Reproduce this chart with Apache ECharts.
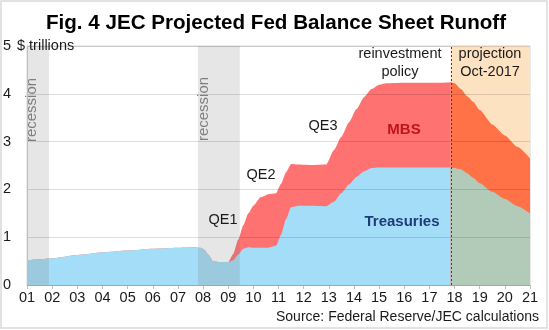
<!DOCTYPE html>
<html>
<head>
<meta charset="utf-8">
<script src="https://cdn.jsdelivr.net/npm/echarts@6/dist/echarts.min.js"></script>
<style>
html,body{margin:0;padding:0;background:#fff;}
#chart{width:549px;height:330px;}
</style>
</head>
<body>
<div id="chart"></div>
<script>
// ---- data (decimal years, $ trillions) ----
const histYears = [2001.0, 2001.5, 2002.0, 2003.0, 2004.0, 2005.0, 2006.0, 2007.0, 2007.6, 2007.9, 2008.05, 2008.2, 2008.4, 2008.6, 2009.0, 2009.2, 2009.4, 2009.6, 2009.8, 2010.0, 2010.3, 2010.6, 2010.9, 2011.1, 2011.3, 2011.5, 2011.8, 2012.3, 2012.9, 2013.2, 2013.5, 2013.8, 2014.1, 2014.4, 2014.7, 2015.0, 2015.3, 2016.0, 2016.5, 2017.0, 2017.5, 2017.85];
const histTreasuries = [0.52, 0.54, 0.56, 0.63, 0.68, 0.72, 0.76, 0.78, 0.79, 0.78, 0.74, 0.64, 0.50, 0.48, 0.48, 0.52, 0.64, 0.76, 0.79, 0.78, 0.78, 0.78, 0.82, 1.05, 1.38, 1.63, 1.66, 1.66, 1.65, 1.74, 1.92, 2.10, 2.26, 2.38, 2.45, 2.46, 2.46, 2.46, 2.46, 2.46, 2.46, 2.46];
const histMBS = [0, 0, 0, 0, 0, 0, 0, 0, 0, 0, 0, 0, 0, 0, 0.00, 0.13, 0.31, 0.49, 0.71, 0.88, 1.06, 1.12, 1.10, 1.07, 0.98, 0.90, 0.86, 0.85, 0.87, 1.08, 1.18, 1.30, 1.42, 1.55, 1.65, 1.73, 1.76, 1.77, 1.77, 1.77, 1.77, 1.78];

const projYears = [2017.85, 2018.0, 2018.25, 2018.5, 2018.75, 2019.0, 2019.5, 2020.0, 2020.5, 2021.0];
const projTreasuries = [2.46, 2.45, 2.42, 2.34, 2.24, 2.13, 1.95, 1.80, 1.65, 1.50];
const projMBS = [1.78, 1.77, 1.68, 1.61, 1.59, 1.53, 1.41, 1.33, 1.24, 1.15];

const recessions = [[2001.0, 2001.87], [2007.8, 2009.46]];
const projectionStart = 2017.85;
const xMin = 2001, xMax = 2021;
const yTicks = [0, 1, 2, 3, 4, 5];

const pairs = (xs, ys) => xs.map((x, i) => [x, ys[i]]);
// MBS stacked on Treasuries: upper edge of the MBS band
const stackTop = (a, b) => a.map((v, i) => Math.round((v + b[i]) * 1000) / 1000);

const FONT = '"Liberation Sans", Arial, sans-serif';
const chart = echarts.init(document.getElementById('chart'), null, {renderer: 'canvas'});

function txt(text, x, y, opts, extra) {
  return Object.assign({
    type: 'text', x: x, y: y, z: 100,
    style: Object.assign({text: text, font: '14.5px ' + FONT, fill: '#1a1a1a', align: 'center', verticalAlign: 'middle'}, opts || {})
  }, extra || {});
}

function area(name, xs, ys, color, z) {
  return {
    name: name, type: 'line', z: z,
    data: pairs(xs, ys), showSymbol: false, symbol: 'none',
    smooth: 0.2, smoothMonotone: 'x',
    lineStyle: {width: 0}, areaStyle: {color: color, opacity: 1}
  };
}

const mbsHistSeries = area('MBS', histYears, stackTop(histTreasuries, histMBS), '#ff7272', 2);
mbsHistSeries.markArea = {
  silent: true, z: 1,
  itemStyle: {color: '#fde2c1'},
  data: [[{xAxis: projectionStart, yAxis: 5}, {xAxis: xMax, yAxis: 0}]]
};
const treasHistSeries = area('Treasuries', histYears, histTreasuries, '#a3ddf7', 2);
treasHistSeries.markArea = {
  silent: true, z: 3,
  itemStyle: {color: 'rgba(120,120,120,0.19)'},
  data: recessions.map(r => [{xAxis: r[0], yAxis: 5}, {xAxis: r[1], yAxis: 0}])
};
const mbsProjSeries = area('MBS projection', projYears, stackTop(projTreasuries, projMBS), '#ff7146', 2);
const treasProjSeries = area('Treasuries projection', projYears, projTreasuries, '#b1cbb8', 2);
treasProjSeries.markLine = {
  silent: true, symbol: 'none', z: 5,
  label: {show: false},
  lineStyle: {color: '#404040', type: [2, 2], width: 1},
  data: [{xAxis: projectionStart}]
};

const option = {
  animation: false,
  backgroundColor: '#fff',
  grid: {left: 26, right: 19, top: 46, bottom: 45, show: true, borderColor: '#d4d4d4', borderWidth: 1, backgroundColor: 'transparent'},
  xAxis: {
    type: 'value', min: xMin, max: xMax, interval: 1,
    axisLine: {show: true, lineStyle: {color: '#bfbfbf'}},
    axisTick: {show: true, length: 4, lineStyle: {color: '#bfbfbf'}},
    axisLabel: {margin: 5, color: '#1a1a1a', fontSize: 14.5, fontFamily: FONT,
      formatter: v => String(v % 100).padStart(2, '0')},
    splitLine: {show: false}
  },
  yAxis: {
    type: 'value', min: yTicks[0], max: yTicks[yTicks.length - 1], interval: 1, z: 4,
    axisLine: {show: true, lineStyle: {color: '#bfbfbf'}},
    axisTick: {show: false},
    axisLabel: {margin: 16, color: '#1a1a1a', fontSize: 14.5, fontFamily: FONT},
    splitLine: {show: true, lineStyle: {color: 'rgba(0,0,0,0.13)', width: 1}}
  },
  series: [mbsHistSeries, treasHistSeries, mbsProjSeries, treasProjSeries],
  graphic: [
    {type: 'rect', shape: {x: 1, y: 1, width: 546, height: 327}, style: {fill: 'none', stroke: '#d9d9d9', lineWidth: 1.5}, z: 100},
    txt('Fig. 4 JEC Projected Fed Balance Sheet Runoff', 276, 23.5, {font: 'bold 20.6px ' + FONT, fill: '#000'}),
    txt('$ trillions', 17, 46, {align: 'left'}),
    txt('recession', 32, 110, {fill: '#7f7f7f', font: '15px ' + FONT}, {rotation: Math.PI / 2}),
    txt('recession', 204, 109, {fill: '#7f7f7f', font: '15px ' + FONT}, {rotation: Math.PI / 2}),
    txt('QE1', 223, 220),
    txt('QE2', 261, 175),
    txt('QE3', 323, 126),
    txt('reinvestment', 400, 54),
    txt('policy', 400, 72),
    txt('projection', 490, 54),
    txt('Oct-2017', 490, 72),
    txt('MBS', 404, 130, {font: 'bold 15px ' + FONT, fill: '#c0141c'}),
    txt('Treasuries', 402, 222, {font: 'bold 15px ' + FONT, fill: '#1f3a78'}),
    txt('Source: Federal Reserve/JEC calculations', 539, 317, {align: 'right', font: '14px ' + FONT})
  ]
};
chart.setOption(option);
</script>
</body>
</html>
